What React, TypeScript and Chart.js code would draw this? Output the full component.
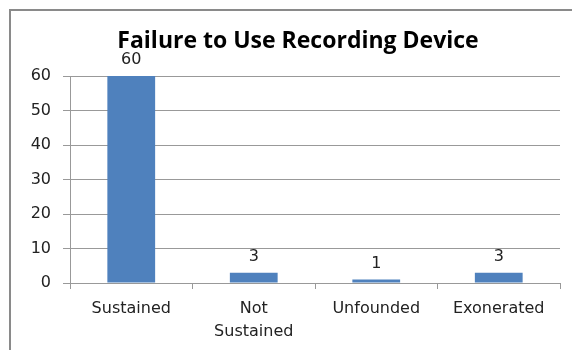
import React, { useEffect, useRef } from "react";
import { Chart, registerables } from "chart.js";

Chart.register(...registerables);

const TITLE = "Failure to Use Recording Device";
const categories: (string | string[])[] = ["Sustained", ["Not", "Sustained"], "Unfounded", "Exonerated"];
const values = [60, 3, 1, 3];
const yTicks = [0, 10, 20, 30, 40, 50, 60];

const FONT = "'DejaVu Sans', sans-serif";
const TITLE_FONT = "'Open Sans', 'DejaVu Sans', sans-serif";

const valueLabels = {
  id: "valueLabels",
  afterDatasetsDraw(chart: any) {
    const ctx = chart.ctx;
    const meta = chart.getDatasetMeta(0);
    ctx.save();
    ctx.font = `16px ${FONT}`;
    ctx.fillStyle = "#222";
    ctx.textAlign = "center";
    ctx.textBaseline = "bottom";
    meta.data.forEach((bar: any, i: number) => {
      ctx.fillText(String(chart.data.datasets[0].data[i]), bar.x, bar.y - 8);
    });
    ctx.restore();
  },
};

const titlePlugin = {
  id: "customTitle",
  afterDraw(chart: any) {
    const ctx = chart.ctx;
    ctx.save();
    ctx.font = `bold 23px ${TITLE_FONT}`;
    ctx.fillStyle = "#000";
    ctx.textAlign = "center";
    ctx.textBaseline = "middle";
    ctx.fillText(TITLE, 298, 41);
    ctx.restore();
  },
};

export default function App() {
  const ref = useRef<HTMLCanvasElement | null>(null);
  useEffect(() => {
    if (!ref.current) return;
    const chart = new Chart(ref.current, {
      type: "bar",
      data: {
        labels: categories,
        datasets: [
          {
            data: values,
            backgroundColor: "#4F81BD",
            borderWidth: 0,
            barPercentage: 0.39,
            categoryPercentage: 1,
          },
        ],
      },
      options: {
        animation: false,
        responsive: false,
        maintainAspectRatio: false,
        layout: { padding: { left: 0, right: 12, top: 76, bottom: 0 } },
        plugins: {
          legend: { display: false },
          tooltip: { enabled: false },
          title: { display: false },
        },
        scales: {
          x: {
            grid: {
              display: true,
              offset: true,
              drawOnChartArea: false,
              drawTicks: true,
              tickLength: 6,
              color: "#999",
            },
            border: { display: true, color: "#999", width: 1 },
            ticks: {
              color: "#222",
              font: { family: FONT, size: 16, lineHeight: 1.4 },
              padding: 9,
              maxRotation: 0,
              autoSkip: false,
            },
            afterFit(scale: any) {
              scale.height = 67;
            },
          },
          y: {
            min: 0,
            max: 60,
            afterBuildTicks(scale: any) {
              scale.ticks = yTicks.map((v) => ({ value: v }));
            },
            grid: {
              color: "#999",
              drawTicks: true,
              tickLength: 7,
            },
            border: { display: true, color: "#999", width: 1 },
            ticks: {
              color: "#222",
              font: { family: FONT, size: 16 },
              padding: 12,
            },
            afterFit(scale: any) {
              scale.width = 70;
            },
          },
        },
      },
      plugins: [valueLabels, titlePlugin],
    } as any);
    return () => chart.destroy();
  }, []);

  return (
    <div style={{ position: "fixed", left: 0, top: 0, width: 572, height: 350, overflow: "hidden", background: "#fff" }}>
      <div
        style={{
          position: "absolute",
          left: 9,
          top: 9,
          width: 700,
          height: 500,
          border: "2px solid #8a8a8a",
          boxSizing: "border-box",
        }}
      />
      <canvas ref={ref} width={572} height={350} style={{ position: "absolute", left: 0, top: 0 }} />
    </div>
  );
}
